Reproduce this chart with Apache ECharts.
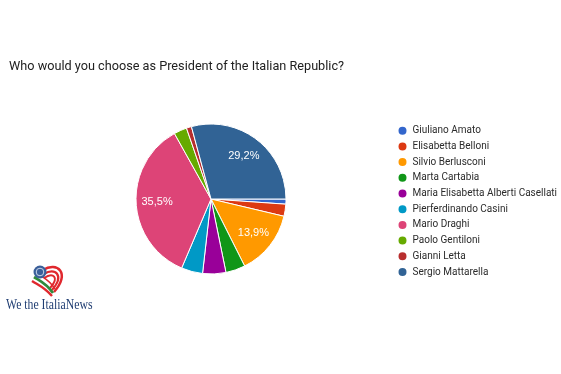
<!DOCTYPE html>
<html><head><meta charset="utf-8">
<script src="https://cdn.jsdelivr.net/npm/echarts@6/dist/echarts.min.js"></script>
<style>html,body{margin:0;padding:0;background:#fff}#c{width:561px;height:374px}</style>
</head><body><div id="c"></div>
<script>
const titleText = 'Who would you choose as President of the Italian Republic?';
const candidates = ['Giuliano Amato','Elisabetta Belloni','Silvio Berlusconi','Marta Cartabia','Maria Elisabetta Alberti Casellati','Pierferdinando Casini','Mario Draghi','Paolo Gentiloni','Gianni Letta','Sergio Mattarella'];
const shares = [1.1, 2.6, 13.9, 4.2, 5.0, 4.6, 35.5, 2.8, 1.1, 29.2];
const colors = ['#3366cc','#dc3912','#ff9900','#109618','#990099','#0099c6','#dd4477','#66aa00','#b82e2e','#316395'];

const data = candidates.map((n,i)=>({name:n, value:shares[i]}));
const chart = echarts.init(document.getElementById('c'), null, {renderer:'canvas'});
const red = '#e0282e', green = '#2f8a3c';
chart.setOption({
  animation:false,
  color: colors,
  title:{text:titleText, left:4, top:55, textStyle:{fontFamily:'Roboto', fontSize:12.7, fontWeight:'normal', color:'#212121'}},
  legend:{orient:'vertical', left:391.5, top:119.7, icon:'circle', itemWidth:10, itemHeight:10, itemGap:3.7,
    data:candidates,
    textStyle:{fontFamily:'Roboto', fontSize:10, color:'#2b2b2b', lineHeight:10}},
  series:[
    {type:'pie', center:[211,199], radius:[0,75], startAngle:0, clockwise:true, data:data,
     itemStyle:{borderColor:'#fff', borderWidth:1}, label:{show:false}, labelLine:{show:false},
     emphasis:{disabled:true}},
    {type:'pie', center:[211,199], radius:[27,75], startAngle:0, clockwise:true, data:data, silent:true,
     legendHoverLink:false,
     itemStyle:{color:'rgba(0,0,0,0)', borderWidth:0},
     label:{show:true, position:'inside', color:'#fff', fontFamily:'Liberation Sans', fontSize:11,
       formatter:p=> p.value>=10 ? p.value.toFixed(1).replace('.',',')+'%' : ''},
     labelLine:{show:false}, emphasis:{disabled:true}}
  ],
  graphic:[
    {type:'group', x:30, y:265, children:[
      {type:'bezierCurve', shape:{x1:13,y1:5,x2:24,y2:27,cpx1:27,cpy1:-4,cpx2:41,cpy2:8}, style:{fill:'none', stroke:red, lineWidth:2.5}},
      {type:'bezierCurve', shape:{x1:14,y1:9,x2:22,y2:25,cpx1:25,cpy1:2,cpx2:35,cpy2:10}, style:{fill:'none', stroke:red, lineWidth:2.2}},
      {type:'bezierCurve', shape:{x1:14,y1:13,x2:20,y2:23,cpx1:23,cpy1:7,cpx2:30,cpy2:12}, style:{fill:'none', stroke:red, lineWidth:2}},
      {type:'bezierCurve', shape:{x1:4,y1:12,x2:23,y2:28,cpx1:10,cpy1:16,cpx2:16,cpy2:18}, style:{fill:'none', stroke:green, lineWidth:2.8}},
      {type:'bezierCurve', shape:{x1:2,y1:16,x2:22,y2:31,cpx1:8,cpy1:20,cpx2:14,cpy2:22}, style:{fill:'none', stroke:red, lineWidth:2.4}},
      {type:'bezierCurve', shape:{x1:7,y1:8,x2:25,y2:24,cpx1:13,cpy1:13,cpx2:19,cpy2:14}, style:{fill:'none', stroke:red, lineWidth:1.6}},
      {type:'circle', shape:{cx:10, cy:7, r:6.5}, style:{fill:'#3a5f9a'}},
      {type:'circle', shape:{cx:10, cy:7, r:3.8}, style:{fill:'none', stroke:'#c9d6ea', lineWidth:1}}
    ]},
    {type:'text', x:6, y:298.5, scaleX:0.84, style:{text:'We the ItaliaNews', font:'14px "Liberation Serif", serif', fill:'#1f3d72'}}
  ]
});
</script></body></html>
